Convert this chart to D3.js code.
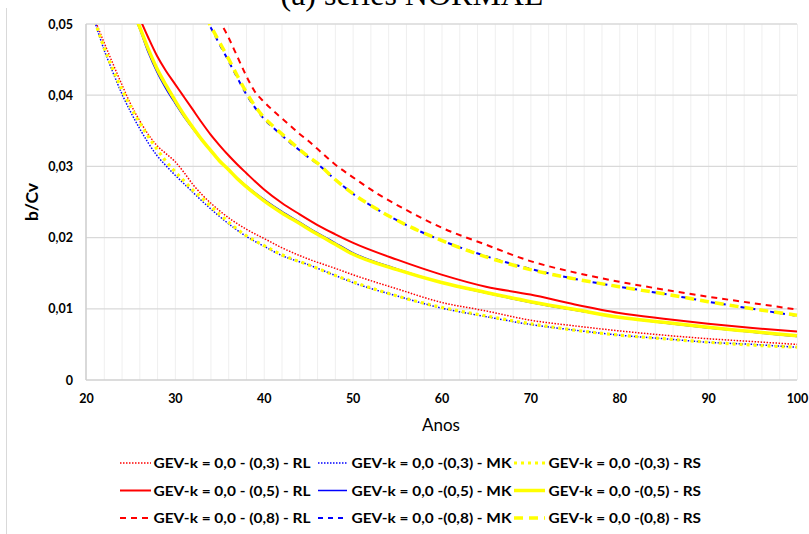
<!DOCTYPE html>
<html><head><meta charset="utf-8">
<script src="https://cdn.jsdelivr.net/npm/d3@7"></script>
<style>
html,body{margin:0;padding:0;background:#fff;}
svg{display:block;}
</style></head>
<body>
<svg id="chart" width="809" height="534"></svg>
<script>
// ---------- data ----------
const title = "(a) series NORMAL";
const xTickValues = [20, 30, 40, 50, 60, 70, 80, 90, 100];
const yTickValues = [0, 0.01, 0.02, 0.03, 0.04, 0.05];
const yTickLabels = ["0", "0,01", "0,02", "0,03", "0,04", "0,05"];
const xGridValues = d3.range(22, 101, 2);

// k = 0,3 (dotted)
const xK3 = [21, 22, 23, 24, 25, 26, 27, 28, 29, 30, 31, 32, 33, 35, 38, 40, 42, 45, 48, 50, 55, 60, 65, 70, 75, 80, 85, 90, 95, 100];
const rlK3 = [0.0506, 0.0475, 0.0445, 0.0416, 0.0388, 0.0365, 0.0345, 0.0329, 0.0318, 0.0307, 0.0292, 0.0275, 0.0261, 0.0238, 0.0212, 0.0199, 0.0186, 0.0170, 0.0157, 0.0148, 0.0128, 0.0109, 0.0097, 0.0084, 0.0076, 0.0069, 0.0063, 0.0058, 0.0054, 0.0050];
const mkK3 = [0.0503, 0.0465, 0.0433, 0.0403, 0.0377, 0.0354, 0.0333, 0.0315, 0.0301, 0.0288, 0.0276, 0.0264, 0.0252, 0.0230, 0.0202, 0.0188, 0.0175, 0.0162, 0.0147, 0.0137, 0.0118, 0.0101, 0.0089, 0.0078, 0.0070, 0.0063, 0.0058, 0.0053, 0.0050, 0.0046];
const rsK3 = [0.0504, 0.0468, 0.0437, 0.0409, 0.0384, 0.0362, 0.0342, 0.0324, 0.0307, 0.0293, 0.0280, 0.0267, 0.0256, 0.0233, 0.0203, 0.0189, 0.0176, 0.0162, 0.0147, 0.0138, 0.0118, 0.0102, 0.0090, 0.0079, 0.0070, 0.0063, 0.0058, 0.0053, 0.0049, 0.0046];

// k = 0,5 (solid)
const xK5 = [25.5, 26, 27, 28, 29, 30, 31, 32, 33, 34, 35, 36, 37, 38, 40, 42, 44, 46, 48, 50, 55, 60, 65, 70, 75, 80, 85, 90, 95, 100];
const rlK5 = [0.0523, 0.0509, 0.0481, 0.0455, 0.0434, 0.0416, 0.0398, 0.0380, 0.0362, 0.0345, 0.0330, 0.0316, 0.0303, 0.0291, 0.0268, 0.0249, 0.0233, 0.0218, 0.0205, 0.0193, 0.0169, 0.0148, 0.0131, 0.0120, 0.0106, 0.0094, 0.0086, 0.0079, 0.0073, 0.0068];
const mkK5 = [0.0509, 0.0494, 0.0460, 0.0432, 0.0409, 0.0389, 0.0370, 0.0353, 0.0337, 0.0322, 0.0308, 0.0296, 0.0284, 0.0273, 0.0254, 0.0237, 0.0222, 0.0207, 0.0193, 0.0179, 0.0156, 0.0137, 0.0122, 0.0109, 0.0098, 0.0088, 0.0080, 0.0073, 0.0067, 0.0061];
const rsK5 = [0.0512, 0.0497, 0.0465, 0.0437, 0.0414, 0.0393, 0.0373, 0.0355, 0.0338, 0.0323, 0.0308, 0.0296, 0.0283, 0.0272, 0.0252, 0.0235, 0.0220, 0.0205, 0.0191, 0.0177, 0.0155, 0.0137, 0.0123, 0.0110, 0.0099, 0.0088, 0.0081, 0.0074, 0.0068, 0.0062];

// k = 0,8 (dashed)
const xK8 = [33.5, 34, 35, 36, 37, 38, 39, 40, 41, 42, 43, 44, 45, 46, 48, 50, 53, 56, 60, 65, 70, 75, 80, 85, 90, 95, 100];
const rlK8 = [0.0551, 0.0536, 0.0506, 0.0482, 0.0455, 0.0428, 0.0405, 0.0391, 0.0379, 0.0368, 0.0357, 0.0346, 0.0336, 0.0325, 0.0303, 0.0285, 0.0260, 0.0239, 0.0214, 0.0190, 0.0167, 0.0151, 0.0138, 0.0127, 0.0117, 0.0108, 0.0099];
const mkK8 = [0.0508, 0.0496, 0.0472, 0.0449, 0.0425, 0.0402, 0.0383, 0.0367, 0.0355, 0.0344, 0.0333, 0.0323, 0.0313, 0.0304, 0.0282, 0.0262, 0.0238, 0.0218, 0.0196, 0.0174, 0.0156, 0.0142, 0.0131, 0.0121, 0.0110, 0.0100, 0.0090];
const rsK8 = [0.0510, 0.0498, 0.0475, 0.0452, 0.0428, 0.0405, 0.0385, 0.0369, 0.0357, 0.0346, 0.0335, 0.0324, 0.0314, 0.0305, 0.0282, 0.0262, 0.0238, 0.0218, 0.0196, 0.0173, 0.0155, 0.0142, 0.0131, 0.0121, 0.0110, 0.0100, 0.0091];

const seriesNames = [
  "GEV-k = 0,0 - (0,3) - RL", "GEV-k = 0,0 -(0,3) - MK", "GEV-k = 0,0 -(0,3) - RS",
  "GEV-k = 0,0 - (0,5) - RL", "GEV-k = 0,0 -(0,5) - MK", "GEV-k = 0,0 -(0,5) - RS",
  "GEV-k = 0,0 - (0,8) - RL", "GEV-k = 0,0 -(0,8) - MK", "GEV-k = 0,0 -(0,8) - RS"
];

// ---------- styles ----------
const RED = "#ff0000", BLUE = "#0000ff", YEL = "#ffff00";
const styles = [
  {color: RED,  width: 1.5, dash: "1.5,1.5"},
  {color: BLUE, width: 1.5, dash: "1.5,1.5"},
  {color: YEL,  width: 3.2, dash: "3,4"},
  {color: RED,  width: 2,   dash: null},
  {color: BLUE, width: 1.5, dash: null},
  {color: YEL,  width: 3.5, dash: null},
  {color: RED,  width: 2,   dash: "6,5"},
  {color: BLUE, width: 2,   dash: "5,5"},
  {color: YEL,  width: 3.5, dash: "9,6"}
];
const seriesData = [
  [xK3, rlK3], [xK3, mkK3], [xK3, rsK3],
  [xK5, rlK5], [xK5, mkK5], [xK5, rsK5],
  [xK8, rlK8], [xK8, mkK8], [xK8, rsK8]
];

// ---------- layout ----------
const svg = d3.select("#chart");
const L = 86, R = 797, T = 24, B = 380;
const x = d3.scaleLinear().domain([20, 100]).range([L, R]);
const y = d3.scaleLinear().domain([0, 0.05]).range([B, T]);
const FONT = "Lato, 'Open Sans', sans-serif";

// chart border (left edge visible)
svg.append("line").attr("x1", 6.5).attr("x2", 6.5).attr("y1", 8).attr("y2", 534)
  .attr("stroke", "#d9d9d9").attr("stroke-width", 1);

// title (mostly cut off at top, as in the reference)
svg.append("text").attr("x", 412).attr("y", 4.5).attr("text-anchor", "middle")
  .attr("font-family", "'Liberation Serif', 'Times New Roman', serif")
  .attr("font-size", 32).attr("fill", "#000").text(title);

// vertical minor gridlines
svg.append("g").selectAll("line").data(xGridValues).join("line")
  .attr("x1", d => x(d) + 0.5).attr("x2", d => x(d) + 0.5)
  .attr("y1", T).attr("y2", B)
  .attr("stroke", "#efefef").attr("stroke-width", 1);

// horizontal gridlines
svg.append("g").selectAll("line").data(yTickValues.slice(1)).join("line")
  .attr("x1", L).attr("x2", R)
  .attr("y1", d => y(d)).attr("y2", d => y(d))
  .attr("stroke", "#d9d9d9").attr("stroke-width", 1.3);

// axes lines
svg.append("line").attr("x1", L).attr("x2", R).attr("y1", B).attr("y2", B)
  .attr("stroke", "#d0d0d0").attr("stroke-width", 1.6);
svg.append("line").attr("x1", L).attr("x2", L).attr("y1", T).attr("y2", B)
  .attr("stroke", "#d0d0d0").attr("stroke-width", 1.6);

// y tick labels via axis
const yAxis = d3.axisLeft(y).tickValues(yTickValues)
  .tickFormat((d, i) => yTickLabels[i]).tickSize(0).tickPadding(13);
const gy = svg.append("g").attr("transform", `translate(${L},0)`).call(yAxis);
gy.select(".domain").remove();
gy.selectAll("text").attr("font-family", FONT).attr("font-weight", "bold")
  .attr("font-size", 12.5).attr("fill", "#000");

// x tick labels via axis
const xAxis = d3.axisBottom(x).tickValues(xTickValues).tickSize(0).tickPadding(14);
const gx = svg.append("g").attr("transform", `translate(0,${B})`).call(xAxis);
gx.select(".domain").remove();
gx.selectAll("text").attr("font-family", FONT).attr("font-weight", "bold")
  .attr("font-size", 12.5).attr("fill", "#000");

// axis titles
svg.append("text").attr("x", 441).attr("y", 431).attr("text-anchor", "middle")
  .attr("font-family", FONT).attr("font-size", 17).attr("fill", "#000").text("Anos");
svg.append("text").attr("transform", "translate(38,202) rotate(-90)")
  .attr("text-anchor", "middle").attr("font-family", FONT).attr("font-weight", "bold")
  .attr("font-size", 17.5).attr("fill", "#000").text("b/Cv");

// clip
svg.append("clipPath").attr("id", "plotclip").append("rect")
  .attr("x", L).attr("y", T).attr("width", R - L + 1).attr("height", B - T);

const line = d3.line().x(d => x(d[0])).y(d => y(d[1])).curve(d3.curveMonotoneX);
const gLines = svg.append("g").attr("clip-path", "url(#plotclip)");
seriesData.forEach((s, i) => {
  const pts = s[0].map((xv, j) => [xv, s[1][j]]);
  const st = styles[i];
  gLines.append("path").datum(pts).attr("d", line)
    .attr("fill", "none").attr("stroke", st.color).attr("stroke-width", st.width)
    .attr("stroke-dasharray", st.dash).attr("stroke-linejoin", "round");
});

// legend
const legRows = [463, 490.5, 518];
const legCols = [{x0: 120, x1: 151, tx: 153.5, w: 157},
                 {x0: 318, x1: 347, tx: 351.5, w: 160},
                 {x0: 514, x1: 545, tx: 548.5, w: 152.5}];
seriesNames.forEach((name, i) => {
  const r = Math.floor(i / 3), c = i % 3, st = styles[i];
  const col = legCols[c], yy = legRows[r];
  svg.append("line").attr("x1", col.x0).attr("x2", col.x1).attr("y1", yy).attr("y2", yy)
    .attr("stroke", st.color).attr("stroke-width", st.width).attr("stroke-dasharray", st.dash);
  const t = svg.append("text").attr("x", col.tx).attr("y", yy + 5)
    .attr("font-family", FONT).attr("font-weight", "bold").attr("font-size", 14)
    .attr("fill", "#000").text(name);
  const len = t.node().getComputedTextLength();
  if (Math.abs(len - col.w) > 2) t.attr("textLength", col.w).attr("lengthAdjust", "spacingAndGlyphs");
});
</script>
</body></html>
